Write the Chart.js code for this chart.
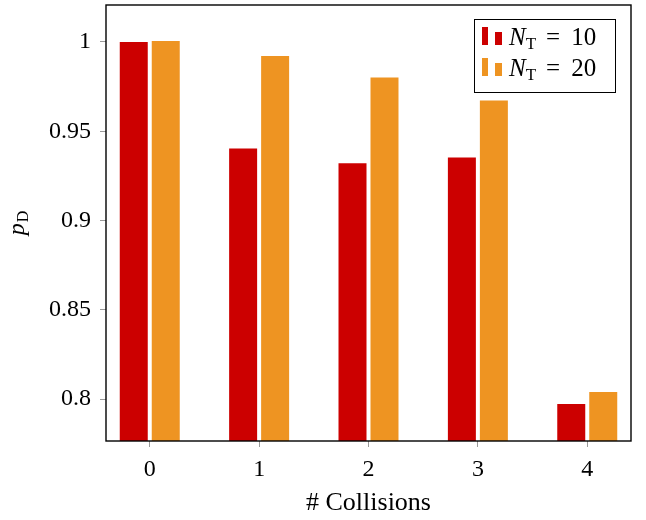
<!DOCTYPE html>
<html>
<head>
<meta charset="utf-8">
<script src="https://cdn.jsdelivr.net/npm/chart.js@4"></script>
<style>
    html, body { margin: 0; padding: 0; background: #fff; }
    #wrap { width: 646px; height: 520px; }
</style>
</head>
<body>
<div id="wrap"><canvas id="collisionChart" width="646" height="520"></canvas></div>
<script>
// Data
const collisions = [0, 1, 2, 3, 4];
const pdNT10 = [1.0, 0.9403, 0.932, 0.9353, 0.7972];
const pdNT20 = [1.0005, 0.9922, 0.9801, 0.9672, 0.8039];
const targetCounts = [10, 20];
const yTickValues = [0.8, 0.85, 0.9, 0.95, 1];

const SERIF = '"Liberation Serif", "DejaVu Serif", serif';
const RED = '#cc0000';
const ORANGE = '#ee9422';

// Plot frame on all four sides
const framePlugin = {
    id: 'frame',
    afterDatasetsDraw(chart) {
        const a = chart.chartArea;
        const ctx = chart.ctx;
        ctx.save();
        ctx.strokeStyle = '#000';
        ctx.lineWidth = 1.4;
        ctx.strokeRect(a.left, a.top, a.right - a.left, a.bottom - a.top);
        ctx.restore();
    }
};

// y title with subscript: p_D
const yTitlePlugin = {
    id: 'yTitle',
    afterDraw(chart) {
        const ctx = chart.ctx;
        const a = chart.chartArea;
        const cy = (a.top + a.bottom) / 2;
        ctx.save();
        ctx.translate(24, cy);
        ctx.rotate(-Math.PI / 2);
        ctx.fillStyle = '#000';
        ctx.textBaseline = 'alphabetic';
        ctx.font = 'italic 24px ' + SERIF;
        const wp = ctx.measureText('p').width;
        ctx.font = '16px ' + SERIF;
        const wd = ctx.measureText('D').width;
        let x = -(wp + wd + 1) / 2;
        ctx.font = 'italic 24px ' + SERIF;
        ctx.fillText('p', x, 0);
        x += wp + 1;
        ctx.font = '16px ' + SERIF;
        ctx.fillText('D', x, 4);
        ctx.restore();
    }
};

// Legend box in the upper right, bar icons and N_T labels
const legendPlugin = {
    id: 'texLegend',
    afterDraw(chart) {
        const ctx = chart.ctx;
        const a = chart.chartArea;
        const x0 = a.right - 157, y0 = a.top + 14, w = 141, h = 73;
        ctx.save();
        ctx.fillStyle = '#fff';
        ctx.fillRect(x0, y0, w, h);
        ctx.strokeStyle = '#000';
        ctx.lineWidth = 1;
        ctx.strokeRect(x0 + 0.5, y0 + 0.5, w, h);
        chart.data.datasets.forEach((ds, i) => {
            const base = y0 + 26 + i * 31;
            ctx.fillStyle = ds.backgroundColor;
            ctx.fillRect(x0 + 8, base - 18, 6, 18);
            ctx.fillRect(x0 + 21, base - 13, 7, 13);

            // label like "N_T = 10": symbol, subscript, then "= value"
            const parts = ds.label.match(/^(\w)_(\w)\s*=\s*(.*)$/);
            let tx = x0 + 35;
            ctx.fillStyle = '#000';
            ctx.textBaseline = 'alphabetic';
            ctx.font = 'italic 25px ' + SERIF;
            ctx.fillText(parts[1], tx, base);
            tx += ctx.measureText(parts[1]).width;
            ctx.font = '17px ' + SERIF;
            ctx.fillText(parts[2], tx, base + 4);
            tx += ctx.measureText(parts[2]).width + 10;
            ctx.font = '25px ' + SERIF;
            ctx.fillText('=', tx, base);
            tx += ctx.measureText('=').width + 11;
            ctx.fillText(parts[3], tx, base);
        });
        ctx.restore();
    }
};

function toPoints(values) {
    return collisions.map((c, i) => ({ x: c, y: values[i] }));
}

function initializeChart() {
    const ctx = document.getElementById('collisionChart');
    new Chart(ctx, {
        type: 'bar',
        data: {
            datasets: [{
                label: 'N_T = ' + targetCounts[0],
                data: toPoints(pdNT10),
                backgroundColor: RED
            }, {
                label: 'N_T = ' + targetCounts[1],
                data: toPoints(pdNT20),
                backgroundColor: ORANGE
            }]
        },
        options: {
            responsive: false,
            animation: false,
            events: [],
            categoryPercentage: 0.585,
            barPercentage: 0.875,
            layout: { padding: { top: 5, right: 15, left: 0, bottom: 0 } },
            plugins: {
                legend: { display: false },
                tooltip: { enabled: false }
            },
            scales: {
                x: {
                    type: 'linear',
                    min: -0.4,
                    max: 4.4,
                    offset: false,
                    afterBuildTicks: axis => {
                        axis.ticks = collisions.map(v => ({ value: v }));
                    },
                    afterFit: scale => {
                        scale.height = 79;
                        scale.paddingLeft = 0;
                        scale.paddingRight = 0;
                    },
                    grid: {
                        offset: false,
                        drawOnChartArea: false,
                        drawTicks: true,
                        tickLength: 6,
                        color: '#9a9a9a',
                        lineWidth: 1
                    },
                    border: { display: false },
                    ticks: {
                        padding: 8,
                        color: '#000',
                        maxRotation: 0,
                        font: { family: SERIF, size: 24 },
                        callback: v => String(v)
                    },
                    title: {
                        display: true,
                        text: '# Collisions',
                        color: '#000',
                        font: { family: SERIF, size: 26 },
                        padding: { top: 0, bottom: 1 }
                    }
                },
                y: {
                    min: 0.7765,
                    max: 1.0207,
                    afterBuildTicks: axis => {
                        axis.ticks = yTickValues.map(v => ({ value: v }));
                    },
                    afterFit: scale => {
                        scale.width = 106;
                        scale.paddingTop = 0;
                        scale.paddingBottom = 0;
                    },
                    grid: {
                        drawOnChartArea: false,
                        drawTicks: true,
                        tickLength: 6,
                        color: '#9a9a9a',
                        lineWidth: 1
                    },
                    border: { display: false },
                    ticks: {
                        padding: 9,
                        color: '#000',
                        font: { family: SERIF, size: 24 },
                        callback: v => String(v)
                    }
                }
            }
        },
        plugins: [framePlugin, yTitlePlugin, legendPlugin]
    });
}

document.addEventListener('DOMContentLoaded', initializeChart);
</script>
</body>
</html>
